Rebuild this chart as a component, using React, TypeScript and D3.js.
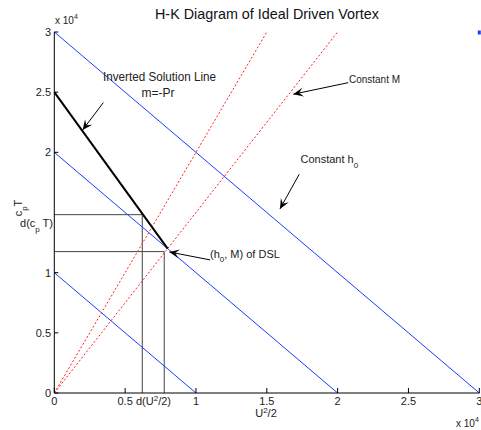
import React from "react";
import * as d3 from "d3";

// ---- data (units of 10^4) ----
const hLevels = [1, 2, 3]; // constant h0 lines: x + y = h
const mSlopes = [2, 1.5]; // constant M lines: y = s * x
const dslLine: [number, number][] = [[0, 2.5], [0.8, 1.2]]; // inverted solution line
const stepUpper: [number, number][] = [[0, 1.482], [0.621, 1.482], [0.621, 0]];
const stepLower: [number, number][] = [[0, 1.175], [0.776, 1.175], [0.776, 0]];
const xTicks = [0, 0.5, 1, 1.5, 2, 2.5, 3];
const xTickLabels = ["0", "0.5", "1", "1.5", "2", "2.5", "3"];
const yTicks = [0, 0.5, 1, 2, 2.5, 3];
const yTickLabels = ["0", "0.5", "1", "2", "2.5", "3"];
const cornerPoint: [number, number] = [3, 3];

// annotation arrows: [tailX, tailY, tipX, tipY] in data units
const arrows: [number, number, number, number][] = [
  [0.346, 2.413, 0.2, 2.186],
  [2.075, 2.579, 1.687, 2.483],
  [1.729, 1.818, 1.593, 1.53],
  [1.1, 1.106, 0.812, 1.172],
];

const W = 481;
const H = 430;
const FONT = "'Liberation Sans', Arial, Helvetica, sans-serif";

export default function App() {
  const x = d3.scaleLinear().domain([0, 3]).range([54.3, 479.3]);
  const y = d3.scaleLinear().domain([0, 3]).range([393, 32]);
  const line = d3
    .line<[number, number]>()
    .x((d) => x(d[0]))
    .y((d) => y(d[1]));

  const arrowHead = (x1: number, y1: number, x2: number, y2: number) => {
    const a = Math.atan2(y2 - y1, x2 - x1);
    const L = 10;
    const Wd = 4.5;
    const notch = 6;
    const pts = [
      [0, 0],
      [-L, Wd],
      [-notch, 0],
      [-L, -Wd],
    ].map(([px, py]) => [
      x2 + px * Math.cos(a) - py * Math.sin(a),
      y2 + px * Math.sin(a) + py * Math.cos(a),
    ]);
    return "M" + pts.map((p) => p.join(",")).join("L") + "Z";
  };

  return (
    <svg
      width={W}
      height={H}
      style={{ position: "absolute", left: 0, top: 0, background: "#fff" }}
      fontFamily={FONT}
    >
      <rect x={0} y={0} width={W} height={H} fill="#fff" />

      {/* gray step lines */}
      {[stepUpper, stepLower].map((s, i) => (
        <path key={"s" + i} d={line(s) || ""} fill="none" stroke="#444" strokeWidth={1} />
      ))}

      {/* constant h0 lines */}
      {hLevels.map((h) => (
        <path
          key={"h" + h}
          d={line([[0, h], [h, 0]]) || ""}
          fill="none"
          stroke="#1a3cff"
          strokeWidth={1}
        />
      ))}

      {/* constant M lines */}
      {mSlopes.map((s) => (
        <path
          key={"m" + s}
          d={line([[0, 0], [3 / s, 3]]) || ""}
          fill="none"
          stroke="#ff2020"
          strokeWidth={1}
          strokeDasharray="2,2"
        />
      ))}

      {/* inverted solution line */}
      <path d={line(dslLine) || ""} fill="none" stroke="#000" strokeWidth={2} />

      {/* corner point */}
      <rect x={x(cornerPoint[0]) - 1.5} y={y(cornerPoint[1]) - 1.5} width={3} height={4} fill="#1a3cff" />

      {/* axes */}
      <line x1={x(0)} x2={x(3)} y1={y(0)} y2={y(0)} stroke="#000" strokeWidth={1} />
      <line x1={x(0)} x2={x(0)} y1={y(0)} y2={y(3)} stroke="#000" strokeWidth={1} />
      {xTicks.map((t, i) => (
        <g key={"xt" + i}>
          <line x1={x(t)} x2={x(t)} y1={y(0)} y2={y(0) - 5} stroke="#000" />
          <text x={x(t)} y={405} fontSize={11} textAnchor="middle" fill="#222">
            {xTickLabels[i]}
          </text>
        </g>
      ))}
      {yTicks.map((t, i) => (
        <g key={"yt" + i}>
          <line x1={x(0)} x2={x(0) + 4} y1={y(t)} y2={y(t)} stroke="#000" />
          <text x={51} y={y(t) + 4} fontSize={11} textAnchor="end" fill="#222">
            {yTickLabels[i]}
          </text>
        </g>
      ))}

      {/* special tick labels */}
      <text x={x(0.7)} y={405} fontSize={11} textAnchor="middle" fill="#222">
        d(U<tspan dy={-4} fontSize={8}>2</tspan>
        <tspan dy={4}>/2)</tspan>
      </text>
      <text x={53} y={227} fontSize={11} textAnchor="end" fill="#222">
        d(c<tspan dy={5} fontSize={8}>p</tspan>
        <tspan dy={-5}> T)</tspan>
      </text>

      {/* exponents */}
      <text x={55} y={24} fontSize={10} fill="#222">
        x 10<tspan dy={-5} fontSize={7}>4</tspan>
      </text>
      <text x={456} y={427} fontSize={10} fill="#222">
        x 10<tspan dy={-5} fontSize={7}>4</tspan>
      </text>

      {/* axis labels */}
      <text x={266} y={417} fontSize={11} textAnchor="middle" fill="#222">
        U<tspan dy={-4} fontSize={8}>2</tspan>
        <tspan dy={4}>/2</tspan>
      </text>
      <text transform="translate(22,208) rotate(-90)" fontSize={11} textAnchor="middle" fill="#222">
        c<tspan dy={5} fontSize={8}>p</tspan>
        <tspan dy={-5}>T</tspan>
      </text>

      {/* title */}
      <text x={267} y={19} fontSize={15} textAnchor="middle" fill="#111" textLength={224} lengthAdjust="spacingAndGlyphs">
        H-K Diagram of Ideal Driven Vortex
      </text>

      {/* annotations */}
      <text x={103} y={81} fontSize={12} fill="#222" textLength={113} lengthAdjust="spacingAndGlyphs">
        Inverted Solution Line
      </text>
      <text x={158} y={97} fontSize={12} textAnchor="middle" fill="#222">
        m=-Pr
      </text>
      <text x={349} y={83} fontSize={11} fill="#222" textLength={51} lengthAdjust="spacingAndGlyphs">
        Constant M
      </text>
      <text x={300.5} y={163} fontSize={11} fill="#222">
        Constant h<tspan dy={5} fontSize={8}>0</tspan>
      </text>
      <text x={210} y={258} fontSize={11} fill="#222">
        (h<tspan dy={4} fontSize={8}>0</tspan>
        <tspan dy={-4}>, M) of DSL</tspan>
      </text>

      {arrows.map(([a, b, c, d], i) => {
        const x1 = x(a), y1 = y(b), x2 = x(c), y2 = y(d);
        return (
          <g key={"ar" + i}>
            <line x1={x1} y1={y1} x2={x2} y2={y2} stroke="#000" strokeWidth={1} />
            <path d={arrowHead(x1, y1, x2, y2)} fill="#000" />
          </g>
        );
      })}
    </svg>
  );
}
